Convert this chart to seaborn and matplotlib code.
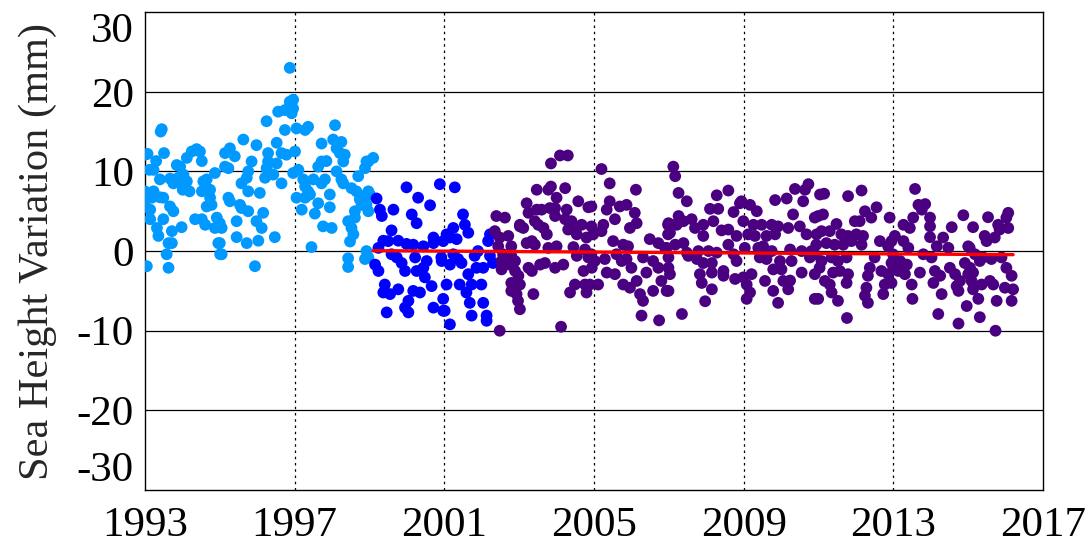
import numpy as np
import pandas as pd
import matplotlib
matplotlib.use("Agg")
import matplotlib.pyplot as plt
import seaborn as sns

# ── Data (decimal year, sea height variation in mm) ───────────────────────────
# light blue: 1993 - early 1999
early_pts = [
    (1993.00, 12.1), (1993.00, 7.5), (1993.00, 6.25), (1993.05, -1.9), (1993.07, 12.2),
    (1993.12, 10.2), (1993.14, 5.2), (1993.14, 4.0), (1993.18, 6.7), (1993.23, 10.2),
    (1993.23, 7.5), (1993.30, 11.3), (1993.32, 2.9), (1993.36, 1.9), (1993.40, 9.0),
    (1993.40, 6.75), (1993.42, 15.0), (1993.45, 15.3), (1993.49, 6.7), (1993.49, 4.0),
    (1993.51, 12.3), (1993.58, -0.4), (1993.63, 1.0), (1993.63, -2.1), (1993.67, 9.1),
    (1993.67, 5.6), (1993.72, 2.5), (1993.72, 1.0), (1993.76, 8.5), (1993.76, 5.0),
    (1993.85, 10.8), (1993.89, 9.2), (1993.94, 10.6), (1993.98, 8.5), (1993.98, 3.0),
    (1994.01, 7.7), (1994.03, 9.6), (1994.12, 11.7), (1994.12, 8.75), (1994.19, 7.5),
    (1994.25, 12.5), (1994.34, 4.0), (1994.38, 12.8), (1994.47, 12.5), (1994.52, 11.3),
    (1994.52, 7.5), (1994.52, 4.0), (1994.56, 8.75), (1994.61, 3.3), (1994.65, 9.0),
    (1994.65, 5.6), (1994.74, 7.7), (1994.74, 6.7), (1994.78, 5.8), (1994.87, 9.8),
    (1994.87, 2.9), (1994.92, 4.2), (1994.96, 1.0), (1995.00, 3.5), (1995.00, 1.0),
    (1995.01, -0.4), (1995.05, 2.9), (1995.05, -0.4), (1995.14, 12.3), (1995.14, 10.6),
    (1995.23, 10.4), (1995.23, 6.7), (1995.27, 12.9), (1995.27, 6.25), (1995.40, 11.9),
    (1995.45, 3.75), (1995.45, 1.75), (1995.54, 5.8), (1995.58, 8.5), (1995.58, 5.4),
    (1995.63, 14.0), (1995.72, 9.2), (1995.72, 1.0), (1995.76, 10.0), (1995.76, 7.5),
    (1995.76, 5.0), (1995.85, 11.25), (1995.94, -1.9), (1995.98, 13.3), (1995.98, 3.75),
    (1996.03, 1.3), (1996.07, 7.3), (1996.12, 2.9), (1996.16, 4.8), (1996.21, 9.2),
    (1996.25, 16.3), (1996.25, 10.4), (1996.29, 12.3), (1996.29, 11.25), (1996.43, 9.6),
    (1996.47, 1.75), (1996.52, 13.6), (1996.52, 11.0), (1996.56, 17.5), (1996.65, 12.3),
    (1996.65, 8.5), (1996.74, 17.7), (1996.74, 15.2), (1996.78, 12.1), (1996.87, 23.0),
    (1996.87, 18.75), (1996.92, 17.3), (1996.96, 19.0), (1996.96, 17.9), (1996.96, 9.8),
    (1997.01, 12.5), (1997.05, 15.4), (1997.05, 6.7), (1997.10, 10.2), (1997.19, 5.2),
    (1997.23, 9.0), (1997.28, 15.2), (1997.28, 8.1), (1997.28, 6.7), (1997.36, 15.6),
    (1997.36, 7.5), (1997.41, 7.1), (1997.45, 0.5), (1997.50, 9.0), (1997.54, 4.7),
    (1997.63, 10.6), (1997.63, 6.0), (1997.72, 13.5), (1997.72, 11.25), (1997.72, 8.5),
    (1997.76, 3.1), (1997.81, 9.0), (1997.85, 11.3), (1997.94, 7.1), (1997.94, 5.5),
    (1997.99, 2.9), (1998.03, 14.0), (1998.08, 15.8), (1998.12, 12.9), (1998.12, 10.0),
    (1998.21, 12.3), (1998.25, 13.7), (1998.25, 9.0), (1998.30, 11.25), (1998.30, 8.5),
    (1998.34, 12.1), (1998.43, 3.75), (1998.43, -0.9), (1998.43, -2.0), (1998.48, 1.2),
    (1998.52, 7.9), (1998.52, 2.9), (1998.57, 2.1), (1998.61, 5.0), (1998.61, 4.2),
    (1998.65, 7.5), (1998.70, 9.4), (1998.74, 6.5), (1998.79, 5.8), (1998.88, 10.4),
    (1998.88, -1.0), (1998.92, 11.25), (1998.92, 7.1), (1998.92, 5.8), (1998.92, 0.0),
    (1998.97, 11.25), (1998.97, 7.5), (1998.97, 5.0), (1998.97, -0.8), (1999.01, 7.1),
    (1999.10, 11.7),
]

# blue: 1999 - 2002
mid_pts = [
    (1999.15, -1.7), (1999.19, 6.6), (1999.24, 0.4), (1999.24, -2.5), (1999.28, 5.2),
    (1999.33, 4.4), (1999.37, 1.3), (1999.37, -5.2), (1999.41, -4.2), (1999.46, -7.7),
    (1999.50, 1.25), (1999.55, -5.4), (1999.59, 2.6), (1999.59, -0.4), (1999.64, 5.2),
    (1999.73, -0.8), (1999.77, 1.3), (1999.77, -4.8), (1999.86, -1.5), (1999.95, -2.5),
    (1999.95, -7.1), (1999.99, 8.0), (1999.99, 0.9), (2000.04, -6.25), (2000.04, -7.7),
    (2000.13, 4.6), (2000.17, 0.8), (2000.17, -5.0), (2000.22, -0.8), (2000.26, 3.5),
    (2000.26, -2.5), (2000.30, 6.7), (2000.35, -5.2), (2000.44, 0.6), (2000.44, -2.1),
    (2000.48, -3.3), (2000.53, -1.25), (2000.62, 5.75), (2000.66, -4.4), (2000.71, 1.7),
    (2000.71, 1.0), (2000.71, -7.1), (2000.88, 8.4), (2000.92, -0.8), (2000.93, -1.25),
    (2000.97, 1.25), (2000.97, -6.0), (2000.97, -7.5), (2001.01, -7.5), (2001.06, 2.1),
    (2001.06, -4.2), (2001.15, 1.7), (2001.15, -1.7), (2001.15, -9.2), (2001.24, 2.9),
    (2001.24, -0.4), (2001.28, 8.0), (2001.33, 1.5), (2001.37, -1.0), (2001.41, -4.2),
    (2001.46, -1.5), (2001.50, 4.6), (2001.55, 3.3), (2001.59, -5.2), (2001.64, 2.3),
    (2001.64, -2.9), (2001.68, -6.5), (2001.73, -4.2), (2001.73, -8.1), (2001.81, -0.6),
    (2001.86, -2.1), (2001.90, 0.0), (2001.99, -4.2), (2002.04, -2.1), (2002.04, -6.5),
    (2002.13, -8.1), (2002.13, -8.75), (2002.17, 1.25), (2002.22, 2.1), (2002.22, -0.6),
    (2002.30, -1.5),
]

# purple: 2002 - 2016
late_pts = [
    (2002.35, 2.5), (2002.39, 4.4), (2002.44, 0.6), (2002.48, 1.7), (2002.48, -10.0),
    (2002.53, -1.25), (2002.53, -2.3), (2002.57, -0.4), (2002.62, 4.2), (2002.71, 1.9),
    (2002.75, -1.7), (2002.79, 0.6), (2002.79, -0.6), (2002.79, -4.0), (2002.79, -5.0),
    (2002.89, -1.25), (2002.89, -2.5), (2002.93, -5.4), (2002.97, -4.2), (2002.97, -6.25),
    (2002.98, -3.1), (2003.02, 3.3), (2003.02, 3.1), (2003.02, -4.2), (2003.02, -7.3),
    (2003.11, 2.9), (2003.20, 6.0), (2003.20, 1.0), (2003.25, 4.8), (2003.25, -2.1),
    (2003.34, 1.25), (2003.34, -2.5), (2003.38, -5.4), (2003.42, 3.75), (2003.42, 0.8),
    (2003.47, 7.7), (2003.47, 5.2), (2003.51, 3.3), (2003.56, -1.7), (2003.60, 5.2),
    (2003.65, 2.9), (2003.69, -1.5), (2003.74, 2.1), (2003.78, 7.7), (2003.78, 0.4),
    (2003.82, 5.4), (2003.85, 11.0), (2003.85, 8.1), (2003.96, 5.4), (2003.96, 4.4),
    (2003.96, -2.1), (2004.00, 6.7), (2004.00, 0.6), (2004.09, 12.0), (2004.12, -9.5),
    (2004.18, -1.7), (2004.23, 7.9), (2004.23, 4.0), (2004.27, 5.2), (2004.30, 12.0),
    (2004.31, 2.7), (2004.36, -5.2), (2004.40, 3.75), (2004.45, 0.5), (2004.49, 2.9),
    (2004.49, -4.2), (2004.54, 2.1), (2004.54, -0.6), (2004.58, 6.25), (2004.67, 3.3),
    (2004.72, -2.5), (2004.76, 0.2), (2004.76, -4.2), (2004.80, 1.7), (2004.80, -5.2),
    (2004.85, 5.5), (2004.85, -0.8), (2004.89, -4.2), (2004.93, 5.6), (2004.93, 3.1),
    (2004.93, -0.4), (2004.94, -2.1), (2004.98, 2.1), (2005.02, -1.25), (2005.11, -4.2),
    (2005.20, 10.3), (2005.20, 2.5), (2005.25, 3.3), (2005.29, -1.0), (2005.34, 5.2),
    (2005.34, -2.7), (2005.42, 8.5), (2005.42, 6.25), (2005.51, 1.25), (2005.56, 4.0),
    (2005.56, -2.9), (2005.60, -0.4), (2005.69, 5.6), (2005.74, -1.25), (2005.78, 0.8),
    (2005.78, -4.2), (2005.87, 5.8), (2005.87, -1.0), (2005.91, 0.6), (2005.96, 2.9),
    (2005.96, -4.6), (2006.00, -2.1), (2006.09, 4.8), (2006.12, 7.7), (2006.14, 3.5),
    (2006.14, -3.75), (2006.23, -5.4), (2006.27, -8.1), (2006.31, -0.8), (2006.31, -6.25),
    (2006.40, -2.7), (2006.49, 1.5), (2006.58, -1.25), (2006.58, -5.0), (2006.72, 1.0),
    (2006.72, -2.1), (2006.74, -8.7), (2006.80, -3.75), (2006.90, 0.4), (2006.94, 0.4),
    (2006.94, -5.0), (2006.98, 3.3), (2006.98, 2.1), (2006.99, 3.5), (2006.99, -0.8),
    (2006.99, -2.1), (2006.99, -5.0), (2007.03, 2.3), (2007.03, -2.9), (2007.08, 3.3),
    (2007.12, 10.6), (2007.17, 9.4), (2007.17, 0.8), (2007.21, 3.3), (2007.26, 7.3),
    (2007.26, 4.4), (2007.35, -7.9), (2007.39, 3.75), (2007.39, 1.0), (2007.48, 6.25),
    (2007.48, -0.2), (2007.52, -0.6), (2007.61, 4.0), (2007.70, 2.9), (2007.75, -1.0),
    (2007.79, 0.0), (2007.83, -2.9), (2007.88, -4.0), (2007.92, 3.3), (2007.92, 1.9),
    (2007.92, -1.5), (2007.97, -6.3), (2008.06, 0.0), (2008.10, 5.3), (2008.15, -1.5),
    (2008.15, -2.7), (2008.15, -4.8), (2008.19, 3.75), (2008.28, 7.0), (2008.28, -0.2),
    (2008.32, 5.3), (2008.41, 2.6), (2008.46, -2.5), (2008.46, -3.1), (2008.59, 7.6),
    (2008.59, 2.7), (2008.59, 0.8), (2008.73, 4.9), (2008.73, -0.4), (2008.77, -3.5),
    (2008.81, 1.9), (2008.81, -1.25), (2008.90, 6.0), (2008.94, 6.25), (2008.99, 3.75),
    (2008.99, -3.3), (2009.03, 0.4), (2009.08, -4.2), (2009.08, -6.0), (2009.12, 2.1),
    (2009.17, 5.8), (2009.17, -5.2), (2009.21, -2.9), (2009.26, 3.3), (2009.30, 1.9),
    (2009.35, 5.0), (2009.39, 0.4), (2009.43, -0.8), (2009.48, 3.3), (2009.52, 0.6),
    (2009.57, -3.75), (2009.61, 1.9), (2009.61, -1.0), (2009.75, 3.3), (2009.75, 0.0),
    (2009.79, -2.3), (2009.79, -5.0), (2009.84, 6.4), (2009.84, 2.1), (2009.92, 3.1),
    (2009.92, -6.5), (2009.97, -1.25), (2010.01, -2.3), (2010.06, -3.75), (2010.15, 6.6),
    (2010.19, 2.9), (2010.19, -4.8), (2010.24, 0.2), (2010.24, -3.7), (2010.28, -1.25),
    (2010.32, 4.6), (2010.37, 7.8), (2010.50, 3.1), (2010.55, 0.0), (2010.55, -2.7),
    (2010.59, 6.25), (2010.64, 7.7), (2010.68, 2.1), (2010.73, 8.4), (2010.77, -0.8),
    (2010.81, 0.0), (2010.90, 4.2), (2010.90, -0.4), (2010.90, -2.9), (2010.90, -6.0),
    (2010.94, 0.8), (2010.95, 2.1), (2010.99, 4.4), (2010.99, -6.0), (2011.03, -2.1),
    (2011.04, 7.1), (2011.08, 2.5), (2011.08, -1.25), (2011.12, 4.6), (2011.15, 7.2),
    (2011.17, -3.75), (2011.21, 1.0), (2011.30, 2.5), (2011.30, -4.2), (2011.35, -0.8),
    (2011.35, -5.2), (2011.39, -2.7), (2011.43, 0.8), (2011.48, 3.4), (2011.52, -1.25),
    (2011.52, -6.25), (2011.57, -2.5), (2011.61, 2.1), (2011.66, 0.8), (2011.75, -0.8),
    (2011.75, -4.0), (2011.76, -8.4), (2011.79, 6.9), (2011.79, 1.9), (2011.79, -2.9),
    (2011.88, 1.25), (2011.97, 3.75), (2012.01, 2.1), (2012.10, 3.75), (2012.15, 7.6),
    (2012.15, 0.8), (2012.19, 1.9), (2012.24, 5.0), (2012.24, -5.6), (2012.28, -4.6),
    (2012.32, -3.1), (2012.32, -6.5), (2012.37, -2.1), (2012.41, 4.2), (2012.50, -0.8),
    (2012.55, 5.5), (2012.64, 1.25), (2012.68, -2.5), (2012.73, -5.4), (2012.77, -4.2),
    (2012.86, 0.6), (2012.86, -2.9), (2012.90, 4.2), (2012.95, 1.25), (2012.95, -1.5),
    (2012.95, -4.0), (2012.99, -0.4), (2013.00, -2.1), (2013.04, 1.9), (2013.13, -2.5),
    (2013.18, -1.25), (2013.27, 3.3), (2013.27, 1.25), (2013.31, -2.9), (2013.36, -1.7),
    (2013.40, 0.4), (2013.44, 2.9), (2013.49, -4.2), (2013.51, -6.0), (2013.53, 4.2),
    (2013.58, 7.8), (2013.67, 5.8), (2013.71, -2.7), (2013.76, 5.2), (2013.80, -0.4),
    (2013.85, 5.9), (2013.98, 4.2), (2013.98, 3.1), (2013.98, 1.75), (2014.02, -0.8),
    (2014.07, -4.0), (2014.11, -2.5), (2014.16, 0.6), (2014.20, -7.9), (2014.25, -3.1),
    (2014.29, -5.4), (2014.33, 1.7), (2014.47, 0.4), (2014.51, -2.1), (2014.56, 3.0),
    (2014.65, -2.9), (2014.69, -4.4), (2014.74, -5.0), (2014.74, -9.1), (2014.78, -3.75),
    (2014.87, 4.5), (2014.91, -1.5), (2014.96, -6.9), (2015.00, 0.6), (2015.00, -2.9),
    (2015.04, 0.4), (2015.05, -2.1), (2015.09, -3.75), (2015.13, 3.0), (2015.13, -2.7),
    (2015.13, -4.8), (2015.18, -0.4), (2015.27, -6.0), (2015.31, -1.25), (2015.31, -8.3),
    (2015.36, -4.2), (2015.40, -0.8), (2015.44, 1.9), (2015.49, 1.25), (2015.53, 4.25),
    (2015.58, -3.75), (2015.62, -1.0), (2015.67, -4.2), (2015.71, 1.7), (2015.73, -10.0),
    (2015.76, -6.25), (2015.80, 3.3), (2015.84, 2.7), (2015.89, -0.8), (2015.98, -4.6),
    (2016.02, 4.2), (2016.02, -2.1), (2016.07, 4.8), (2016.07, 2.9), (2016.16, -3.1),
    (2016.16, -6.25), (2016.20, -4.8),
]

# linear trend drawn in red
trend_year = [1999.1, 2016.2]
trend_mm = [0.05, -0.45]

x_ticks = [1993, 1997, 2001, 2005, 2009, 2013, 2017]
y_ticks = [-30, -20, -10, 0, 10, 20, 30]

series_colors = {"early": "#0099ff", "mid": "#0000ff", "late": "#4b0082"}

frames = []
for name, pts in [("early", early_pts), ("mid", mid_pts), ("late", late_pts)]:
    d = pd.DataFrame(pts, columns=["year", "mm"])
    d["series"] = name
    frames.append(d)
df = pd.concat(frames, ignore_index=True)

# ── Style ─────────────────────────────────────────────────────────────────────
sns.set_style("white")
plt.rcParams["font.family"] = ["Liberation Serif", "DejaVu Serif"]
plt.rcParams["axes.unicode_minus"] = False

fig = plt.figure(figsize=(10.89, 5.5), dpi=100)
ax = fig.add_axes([0.1331, 0.109, 0.8247, 0.869])

sns.scatterplot(data=df, x="year", y="mm", hue="series", palette=series_colors,
                s=72, linewidth=0, alpha=1, legend=False, ax=ax, zorder=3)
sns.lineplot(x=trend_year, y=trend_mm, color="#ff0000", linewidth=2.4, ax=ax, zorder=4)

ax.set_xlim(1993, 2017)
ax.set_ylim(-30, 30)
ax.set_xticks(x_ticks)
ax.set_yticks(y_ticks)
ax.set_xticklabels([str(t) for t in x_ticks])
ax.set_yticklabels([str(t) for t in y_ticks])

# vertical dotted grid, horizontal solid grid
for t in x_ticks[1:-1]:
    ax.axvline(t, color="black", linestyle=(0, (2, 3)), linewidth=0.9, zorder=1)
for t in y_ticks[1:-1]:
    ax.axhline(t, color="black", linestyle="-", linewidth=0.9, zorder=1)

for sp in ax.spines.values():
    sp.set_color("black")
    sp.set_linewidth(1.0)

ax.tick_params(axis="both", labelsize=31, direction="in", length=4, colors="black")
ax.tick_params(axis="x", pad=12)
ax.tick_params(axis="y", pad=8)

# outermost y labels sit inside the axis range, as in the original
ylabels = ax.get_yticklabels()
ylabels[0].set_verticalalignment("bottom")
ylabels[-1].set_verticalalignment("top")

ax.set_xlabel("")
ax.set_ylabel("Sea Height Variation (mm)", fontsize=30.5, labelpad=14)

fig.savefig("out.png", dpi=100)
plt.close(fig)
